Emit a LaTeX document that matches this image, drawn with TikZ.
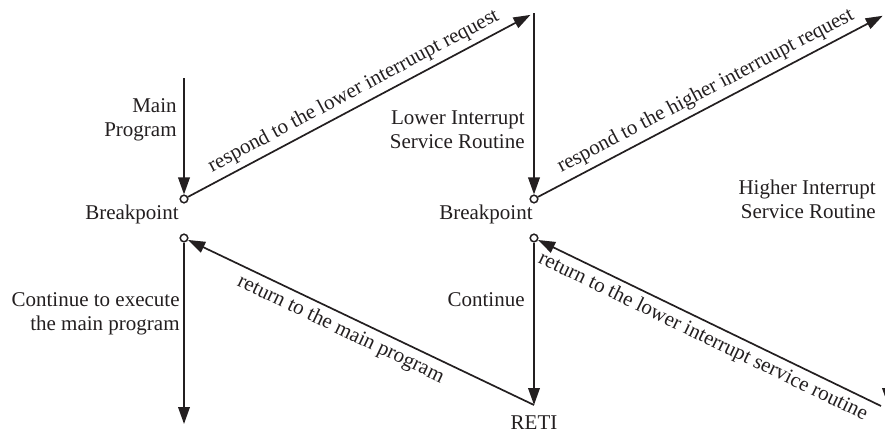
\documentclass[tikz,border=0pt]{standalone}
\usepackage{fontspec}
\setmainfont{Liberation Serif}
\usetikzlibrary{arrows.meta,positioning}
\definecolor{ink}{HTML}{231F20}

\begin{document}
\begin{tikzpicture}[
  x=0.5pt, y=-0.5pt,
  font=\fontsize{10.5}{12}\selectfont, text=ink,
  bp/.style={circle, draw=ink, fill=white, inner sep=0pt, minimum size=3.8pt, line width=0.75pt},
  lbl/.style={align=right, anchor=east, inner sep=0pt},
  arr/.style={-{Triangle[length=8.5pt, width=5.8pt]}, line width=0.85pt, draw=ink},
  along/.style={sloped, inner sep=2.5pt},
]
\useasboundingbox (0,0) rectangle (885,434);
\clip (0,0) rectangle (885,434);

% ─── main program (left) ───────────────────────────────────────────────────
\coordinate (mainstart) at (184,78);
\node[bp] (bpa) at (184,199) {};
\node[bp] (bpb) at (184,238) {};
\coordinate (mainend) at (184,424);
\node (bpatxt) at (132,214) {Breakpoint};
\node[lbl] (mainlbl) at (177,120) {Main\\Program};
\node[lbl] (contlbl) at (180,314) {Continue to execute\\the main program};

\draw[arr] (mainstart) -- (bpa);
\draw[arr] (bpb) -- (mainend);

% ─── lower interrupt service routine (middle) ──────────────────────────────
\coordinate (lowtop) at (534,13);
\node[bp] (bpc) at (534,199) {};
\node[bp] (bpd) at (534,238) {};
\coordinate (reti) at (534,405);
\node (bpctxt) at (486,214) {Breakpoint};
\node (retitxt) at (534,423) {RETI};
\node[lbl] (lowlbl) at (525,130) {Lower Interrupt\\Service Routine};
\node[lbl] (contlowlbl) at (525,300) {Continue};

\draw[arr, shorten >=2pt] (bpa) -- node[along, above]
  {respond to the lower interruupt request} (lowtop);
\draw[arr] (lowtop) -- (bpc);
\draw[arr] (bpd) -- (reti);
\draw[arr] (reti) -- node[along, below, pos=0.54]
  {return to the main program} (bpb);

% ─── higher interrupt service routine (right, cut off) ─────────────────────
\coordinate (hightop) at (888,13);
\coordinate (highend) at (888,405);
\coordinate (highret) at (881,406);
\node[lbl] (highlbl) at (876,199) {Higher Interrupt\\Service Routine};

\draw[arr, shorten >=3pt] (bpc) -- node[along, above]
  {respond to the higher interruupt request} (hightop);
\draw[arr] (hightop) -- (highend);
\draw[arr] (highret) -- node[along, below]
  {return to the lower interrupt service routine} (bpd);

\end{tikzpicture}
\end{document}
